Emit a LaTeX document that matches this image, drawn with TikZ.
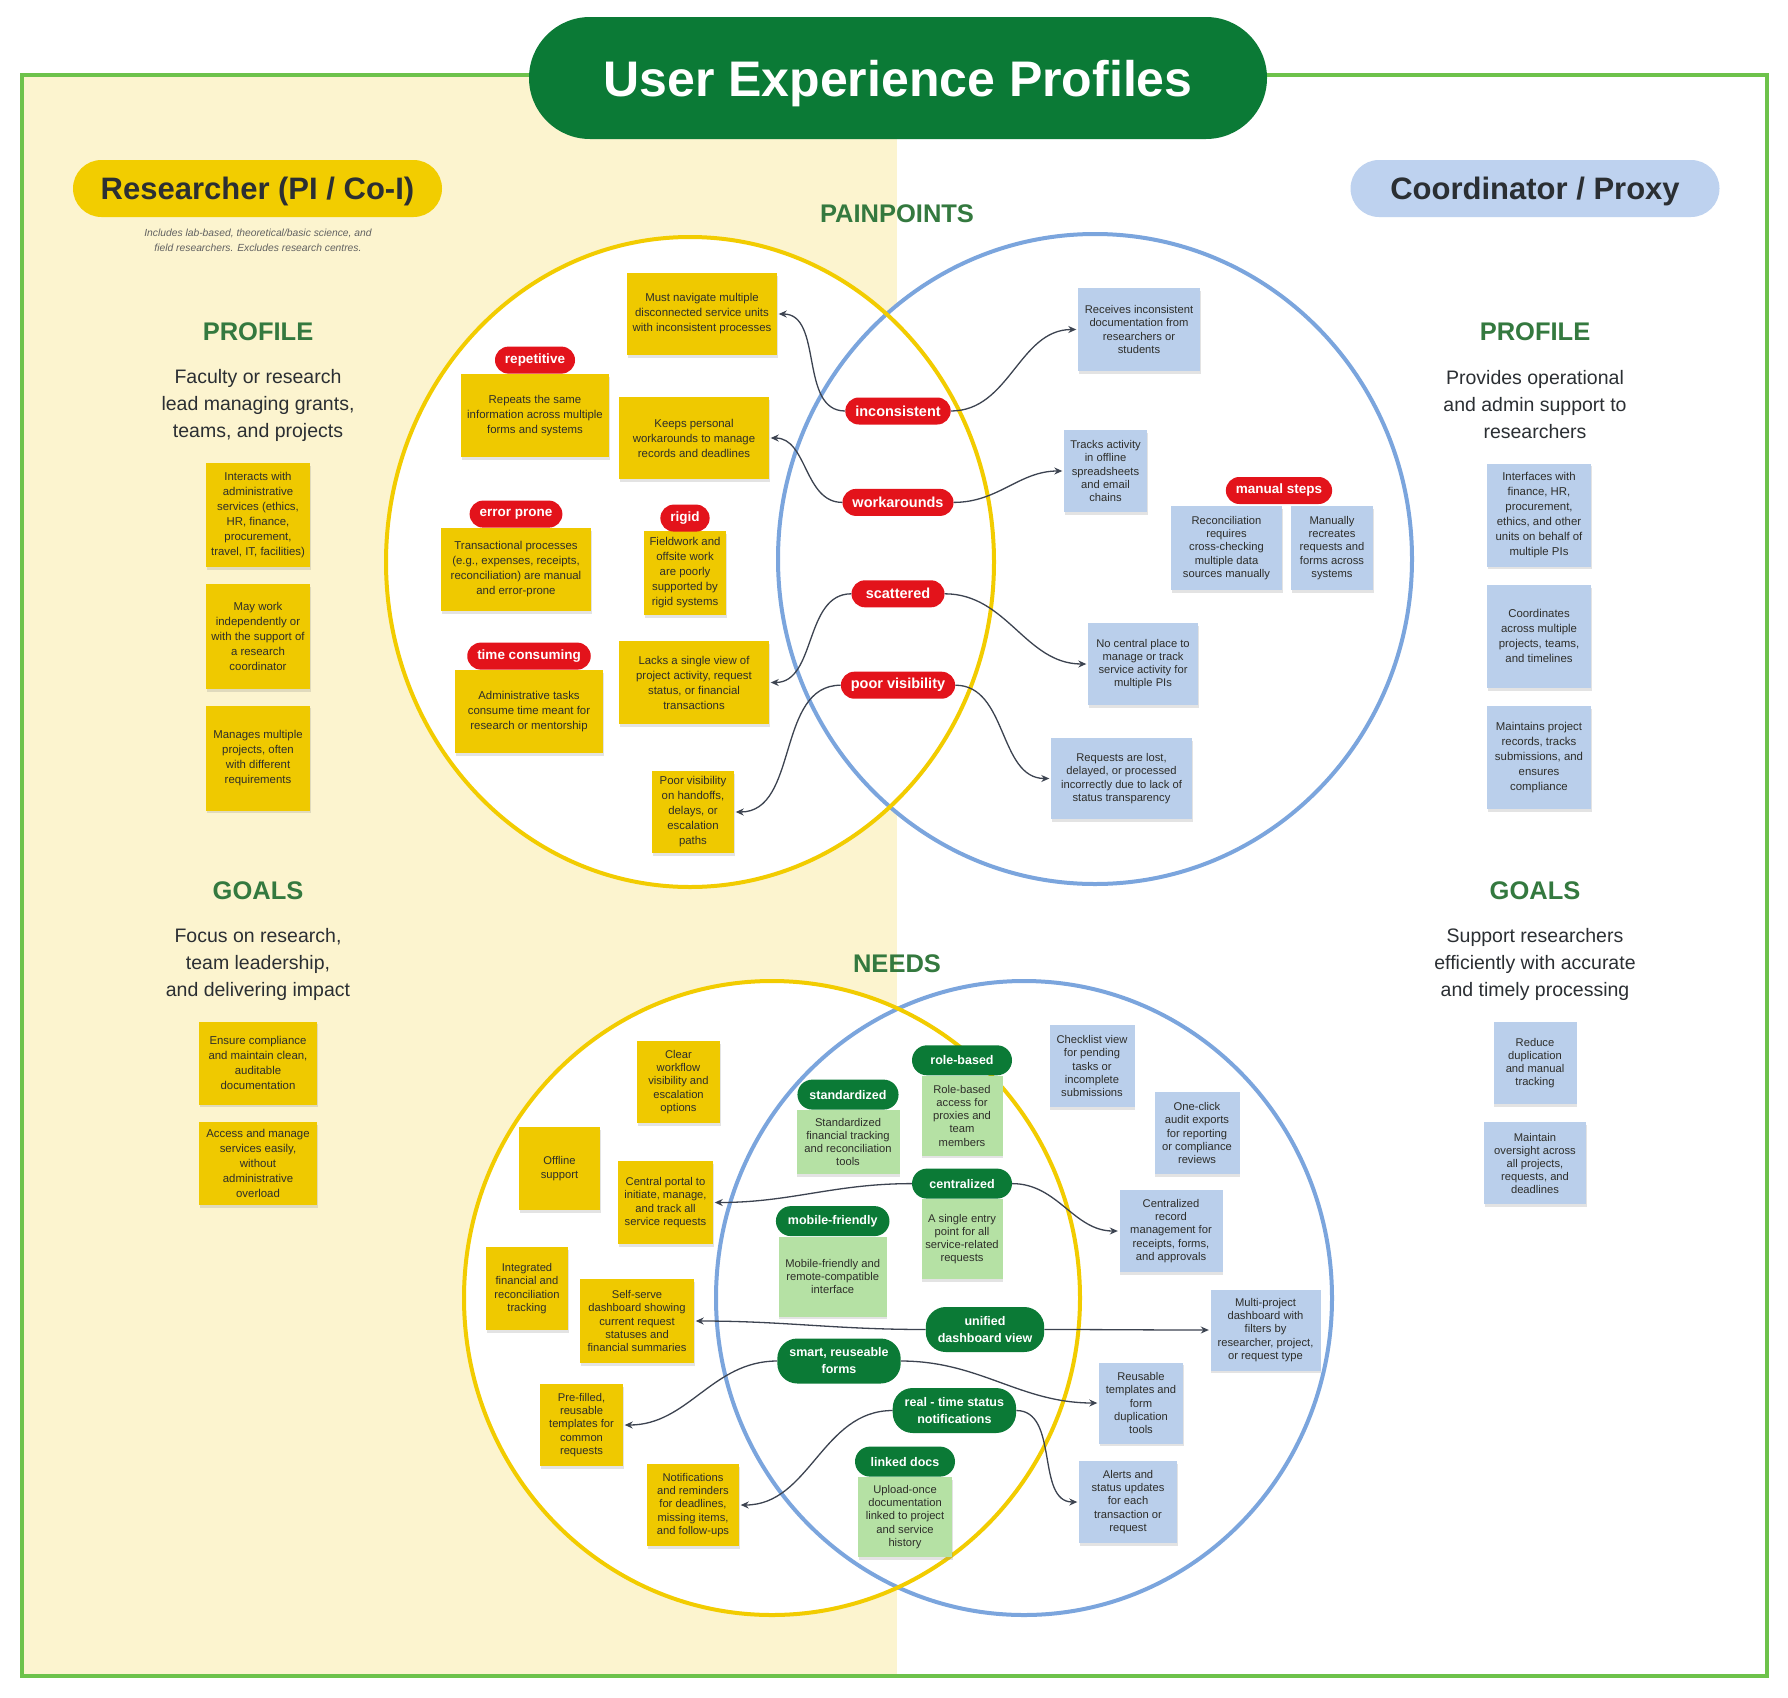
\documentclass[tikz,border=0pt]{standalone}
\usepackage{fontspec}
\setmainfont{Liberation Sans}
\usepackage{tikz}
\usetikzlibrary{arrows.meta, positioning, shadows}

\definecolor{leftbg}{HTML}{FCF4CF}
\definecolor{frame}{HTML}{6DC24B}
\definecolor{darkgrn}{HTML}{0B7A36}
\definecolor{headgrn}{HTML}{34793F}
\definecolor{roleyel}{HTML}{F2CD00}
\definecolor{roleblu}{HTML}{BED2EF}
\definecolor{noteyel}{HTML}{EFC900}
\definecolor{noteblu}{HTML}{BACFEB}
\definecolor{notegrn}{HTML}{B5E1A4}
\definecolor{pillred}{HTML}{E3131B}
\definecolor{circyel}{HTML}{F2CC00}
\definecolor{circblu}{HTML}{7BA5DD}
\definecolor{ink}{HTML}{2B2F33}
\definecolor{notetxt}{HTML}{2E2E2A}
\definecolor{linkcol}{HTML}{3C4350}

\newcommand\notefont{\fontsize{11.4}{15}\selectfont}
\newcommand\tightfont{\fontsize{11.2}{13.2}\selectfont}
\newcommand\bodyfont{\fontsize{19.5}{27}\selectfont}
\newcommand\headfont{\fontsize{25.5}{30}\selectfont\bfseries}

\begin{document}
\begin{tikzpicture}[
  x=1pt, y=-1pt,
  note/.style={fill=#1, text=notetxt, font=\notefont, align=center, inner sep=1pt,
    drop shadow={shadow xshift=0.6pt, shadow yshift=-2.6pt, opacity=0.22}},
  ynote/.style={note=noteyel},
  bnote/.style={note=noteblu},
  gnote/.style={note=notegrn},
  tight/.style={font=\tightfont},
  sz/.style 2 args={minimum width=#1pt, minimum height=#2pt},
  titlepill/.style={fill=darkgrn, text=white, font=\fontsize{50}{60}\selectfont\bfseries,
    minimum width=738pt, minimum height=122pt, rounded corners=61pt, inner sep=0pt,
    text depth=0pt},
  rolepill/.style={text=ink, font=\fontsize{31}{37}\selectfont\bfseries,
    minimum width=369pt, minimum height=57pt, rounded corners=28.5pt, inner sep=0pt,
    text depth=0pt},
  subt/.style={font=\fontsize{10.3}{15}\selectfont\itshape, text=black!62, align=center},
  head/.style={font=\headfont, text=headgrn},
  body/.style={font=\bodyfont, text=ink, align=center},
  redpill/.style={fill=pillred, text=white, font=\fontsize{13.5}{16}\selectfont\bfseries,
    rounded corners=13.5pt, minimum height=27pt, inner xsep=10pt, inner ysep=0pt},
  midpill/.style={redpill, font=\fontsize{14.5}{17}\selectfont\bfseries, minimum width=93pt},
  grnpill/.style={fill=darkgrn, text=white, font=\fontsize{12.5}{17}\selectfont\bfseries,
    rounded corners=15pt, minimum height=30pt, minimum width=100pt, inner xsep=12pt,
    inner ysep=0pt, align=center},
  bigpill/.style={grnpill, minimum height=45pt, rounded corners=20pt},
  venny/.style={draw=circyel, line width=4pt},
  vennb/.style={draw=circblu, line width=4pt},
  link/.style={draw=linkcol, line width=1.3pt, -{Stealth[length=8pt, width=7pt]}, shorten >=1.5pt}
]

% ---- page, left band and frame
\useasboundingbox (0,0) rectangle (1788,1697);
\fill[white] (0,0) rectangle (1788,1697);
\fill[leftbg] (22,75) rectangle (897,1676);
\draw[frame, line width=4pt] (22,75) rectangle (1767,1676);

% ---- venn rings (painpoints on top, needs below)
\fill[white] (690,562) ellipse [x radius=304, y radius=325];
\fill[white] (1095,559) ellipse [x radius=317, y radius=325];
\fill[white] (772,1298) ellipse [x radius=308, y radius=317];
\fill[white] (1024,1298) ellipse [x radius=308, y radius=317];
\draw[vennb] (1095,559) ellipse [x radius=317, y radius=325];
\draw[venny] (690,562) ellipse [x radius=304, y radius=325];
\draw[vennb] (1024,1298) ellipse [x radius=308, y radius=317];
\draw[venny] (772,1298) ellipse [x radius=308, y radius=317];

\node[titlepill] (title) at (898,78) {User Experience Profiles};

% ---- researcher column
\node[rolepill, fill=roleyel] (res) at (257.5,188.5) {Researcher (PI / Co-I)};
\node[subt] (resnote) at (258,240)
  {Includes lab-based, theoretical/basic science, and\\field researchers. Excludes research centres.};
\node[head] (resprof) at (258,332) {PROFILE};
\node[body] (resprofT) at (258,405) {Faculty or research\\lead managing grants,\\teams, and projects};
\node[ynote, sz={104}{104}] (rp1) at (258,515)
  {Interacts with\\administrative\\services (ethics,\\HR, finance,\\procurement,\\travel, IT, facilities)};
\node[ynote, sz={104}{105}, below=17pt of rp1] (rp2)
  {May work\\independently or\\with the support of\\a research\\coordinator};
\node[ynote, sz={104}{105}, below=16pt of rp2] (rp3)
  {Manages multiple\\projects, often\\with different\\requirements};
\node[head] (resgoal) at (258,891) {GOALS};
\node[body] (resgoalT) at (258,964) {Focus on research,\\team leadership,\\and delivering impact};
\node[ynote, sz={118}{83}] (rg1) at (258,1063)
  {Ensure compliance\\and maintain clean,\\auditable\\documentation};
\node[ynote, sz={118}{83}, below=17pt of rg1] (rg2)
  {Access and manage\\services easily,\\without\\administrative\\overload};

% ---- coordinator column
\node[rolepill, fill=roleblu] (coo) at (1535,188.5) {Coordinator / Proxy};
\node[head] (cooprof) at (1535,332) {PROFILE};
\node[body] (cooprofT) at (1535,405) {Provides operational\\and admin support to\\researchers};
\node[bnote, sz={104}{103}] (cp1) at (1539,515)
  {Interfaces with\\finance, HR,\\procurement,\\ethics, and other\\units on behalf of\\multiple PIs};
\node[bnote, sz={104}{103}, below=18pt of cp1] (cp2)
  {Coordinates\\across multiple\\projects, teams,\\and timelines};
\node[bnote, sz={104}{103}, below=18pt of cp2] (cp3)
  {Maintains project\\records, tracks\\submissions, and\\ensures\\compliance};
\node[head] (coogoal) at (1535,891) {GOALS};
\node[body] (coogoalT) at (1535,964) {Support researchers\\efficiently with accurate\\and timely processing};
\node[bnote, tight, sz={83}{82}] (cg1) at (1535,1063) {Reduce\\duplication\\and manual\\tracking};
\node[bnote, tight, sz={102}{82}, below=18pt of cg1] (cg2)
  {Maintain\\oversight across\\all projects,\\requests, and\\deadlines};

% ---- painpoints
\node[head] (painT) at (897,214) {PAINPOINTS};
\node[ynote, sz={150}{82}] (nav) at (702,314)
  {Must navigate multiple\\disconnected service units\\with inconsistent processes};
\node[ynote, sz={148}{83}] (rep) at (535,415.5)
  {Repeats the same\\information across multiple\\forms and systems};
\node[redpill, above=0pt of rep] (repP) {repetitive};
\node[ynote, sz={150}{82}] (keeps) at (694,438)
  {Keeps personal\\workarounds to manage\\records and deadlines};
\node[ynote, sz={150}{83}] (trans) at (516,569.5)
  {Transactional processes\\(e.g., expenses, receipts,\\reconciliation) are manual\\and error-prone};
\node[redpill, above=0pt of trans] (errP) {error prone};
\node[ynote, sz={82}{84}] (field) at (685,573)
  {Fieldwork and\\offsite work\\are poorly\\supported by\\rigid systems};
\node[redpill, above=-1pt of field] (rigP) {rigid};
\node[ynote, sz={148}{83}] (admin) at (529,711.5)
  {Administrative tasks\\consume time meant for\\research or mentorship};
\node[redpill, above=0pt of admin] (timeP) {time consuming};
\node[ynote, sz={150}{83}] (lacks) at (694,682.5)
  {Lacks a single view of\\project activity, request\\status, or financial\\transactions};
\node[ynote, sz={82}{82}] (poorvis) at (693,812)
  {Poor visibility\\on handoffs,\\delays, or\\escalation\\paths};

\node[midpill] (inc) at (898,411) {inconsistent};
\node[midpill, below=64pt of inc] (wrk) {workarounds};
\node[midpill, below=64pt of wrk] (sca) {scattered};
\node[midpill, below=64pt of sca] (pvis) {poor visibility};

\node[bnote, tight, sz={122}{83}] (recv) at (1139,329.5)
  {Receives inconsistent\\documentation from\\researchers or\\students};
\node[bnote, tight, sz={83}{82}] (tracks) at (1105.5,471)
  {Tracks activity\\in offline\\spreadsheets\\and email\\chains};
\node[bnote, tight, sz={111}{84}] (recon) at (1226.5,548)
  {Reconciliation\\requires\\cross-checking\\multiple data\\sources manually};
\node[bnote, tight, sz={82}{84}] (manu) at (1332,548)
  {Manually\\recreates\\requests and\\forms across\\systems};
\node[redpill] (manP) at (1279,490.5) {manual steps};
\node[bnote, tight, sz={110}{82}] (nocent) at (1143,664)
  {No central place to\\manage or track\\service activity for\\multiple PIs};
\node[bnote, tight, sz={141}{81}] (lost) at (1121.5,778.5)
  {Requests are lost,\\delayed, or processed\\incorrectly due to lack of\\status transparency};

% ---- needs
\node[head] (needT) at (897,964) {NEEDS};
\node[ynote, tight, sz={83}{82}] (clear) at (678.5,1082)
  {Clear\\workflow\\visibility and\\escalation\\options};
\node[ynote, tight, sz={81}{83}] (offl) at (559.5,1168.5) {Offline\\support};
\node[ynote, tight, sz={95}{83}] (portal) at (665.5,1202.5)
  {Central portal to\\initiate, manage,\\and track all\\service requests};
\node[ynote, tight, sz={82}{83}] (integ) at (527,1288.5)
  {Integrated\\financial and\\reconciliation\\tracking};
\node[ynote, tight, sz={114}{84}] (selfsrv) at (637,1321)
  {Self-serve\\dashboard showing\\current request\\statuses and\\financial summaries};
\node[ynote, tight, sz={83}{82}] (prefill) at (581.5,1425)
  {Pre-filled,\\reusable\\templates for\\common\\requests};
\node[ynote, tight, sz={92}{82}] (notif) at (693,1505)
  {Notifications\\and reminders\\for deadlines,\\missing items,\\and follow-ups};

\node[gnote, tight, sz={81}{80}] (roleN) at (962,1115.7)
  {Role-based\\access for\\proxies and\\team\\members};
\node[grnpill, above=0pt of roleN] (roleP) {role-based};
\node[gnote, tight, sz={103}{64}] (stdN) at (848,1142)
  {Standardized\\financial tracking\\and reconciliation\\tools};
\node[grnpill, above=0pt of stdN] (stdP) {standardized};
\node[gnote, tight, sz={81}{80}] (oneN) at (962,1239)
  {A single entry\\point for all\\service-related\\requests};
\node[grnpill, above=0pt of oneN] (cenP) {centralized};
\node[gnote, tight, sz={108}{80}] (mobN) at (832.7,1276.5)
  {Mobile-friendly and\\remote-compatible\\interface};
\node[grnpill, above=0pt of mobN] (mobP) {mobile-friendly};
\node[bigpill] (uniP) at (985,1329.5) {unified\\dashboard view};
\node[bigpill] (smartP) at (839,1361) {smart, reuseable\\forms};
\node[bigpill] (rtP) at (954.4,1410.5) {real - time status\\notifications};
\node[gnote, tight, sz={94}{80}] (upN) at (905,1517)
  {Upload-once\\documentation\\linked to project\\and service\\history};
\node[grnpill, above=0pt of upN] (linkP) {linked docs};

\node[bnote, tight, sz={85}{82}] (check) at (1092,1066)
  {Checklist view\\for pending\\tasks or\\incomplete\\submissions};
\node[bnote, tight, sz={85}{82}] (oneclk) at (1197,1133)
  {One-click\\audit exports\\for reporting\\or compliance\\reviews};
\node[bnote, tight, sz={103}{82}] (centrec) at (1171,1231)
  {Centralized\\record\\management for\\receipts, forms,\\and approvals};
\node[bnote, tight, sz={110}{81}] (multi) at (1265.5,1330)
  {Multi-project\\dashboard with\\filters by\\researcher, project,\\or request type};
\node[bnote, tight, sz={84}{81}] (reuse) at (1141,1403)
  {Reusable\\templates and\\form\\duplication\\tools};
\node[bnote, tight, sz={98}{82}] (alerts) at (1128,1502)
  {Alerts and\\status updates\\for each\\transaction or\\request};

% ---- links: shared tag out to each side
\foreach \m/\l/\r in {inc/nav/recv, wrk/keeps/tracks, sca/lacks/nocent, pvis/poorvis/lost,
    cenP/portal/centrec, uniP/selfsrv/multi, smartP/prefill/reuse, rtP/notif/alerts}{
  \draw[link] (\m.west) to[out=180, in=0] (\l.east);
  \draw[link] (\m.east) to[out=0, in=180] (\r.west);
}

\end{tikzpicture}
\end{document}
